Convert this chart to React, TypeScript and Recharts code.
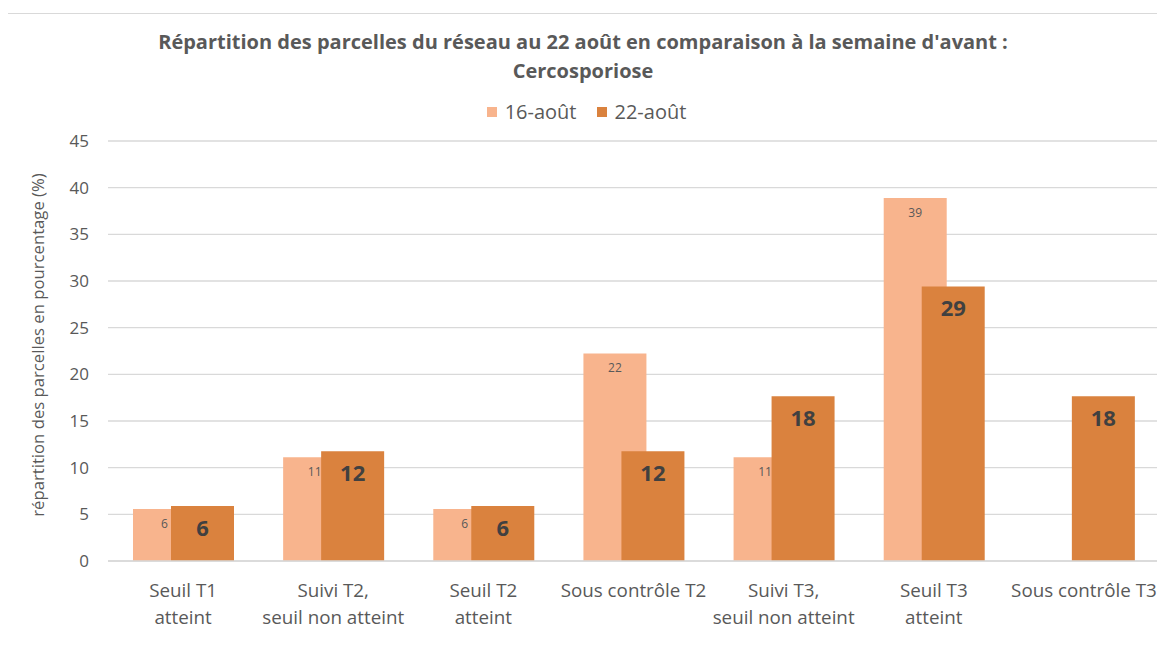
import React from 'react';
import { BarChart, Bar, XAxis, YAxis, CartesianGrid, LabelList, Legend } from 'recharts';

const categories = [
  'Seuil T1\natteint',
  'Suivi T2,\nseuil non atteint',
  'Seuil T2\natteint',
  'Sous contrôle T2',
  'Suivi T3,\nseuil non atteint',
  'Seuil T3\natteint',
  'Sous contrôle T3',
];
const values16: (number | null)[] = [5.56, 11.11, 5.56, 22.22, 11.11, 38.89, null];
const values22: (number | null)[] = [5.88, 11.76, 5.88, 11.76, 17.65, 29.41, 17.65];
const yTicks = [0, 5, 10, 15, 20, 25, 30, 35, 40, 45];
const seriesNames = ['16-août', '22-août'];
const titleLines = [
  "Répartition des parcelles du réseau au 22 août en comparaison à la semaine d'avant :",
  'Cercosporiose',
];
const yLabel = 'répartition des parcelles en pourcentage (%)';

const COLOR16 = '#F8B48D';
const COLOR22 = '#DA823E';
const TEXT = '#595959';
const FONT = '"Open Sans", sans-serif';

const data = categories.map((c, i) => ({ cat: c, v16: values16[i], v22: values22[i] }));

const fmt = (v: any) => (v == null ? '' : String(Math.round(Number(v))));

const XTick = (props: any) => {
  const { x, y, payload } = props;
  const lines = String(payload.value).split('\n');
  return (
    <text x={x} y={y + 28} textAnchor="middle" fill={TEXT} fontSize={18.8} fontFamily={FONT}>
      {lines.map((l: string, i: number) => (
        <tspan key={i} x={x} dy={i === 0 ? 0 : 27}>
          {l}
        </tspan>
      ))}
    </text>
  );
};

const LegendContent = (props: any) => {
  const payload = props.payload || [];
  return (
    <div style={{ display: 'flex', justifyContent: 'center', alignItems: 'center', fontFamily: FONT, fontSize: 20, color: TEXT, lineHeight: '24px', paddingLeft: 8 }}>
      {payload.map((p: any, i: number) => (
        <div key={i} style={{ display: 'flex', alignItems: 'center', marginRight: i === payload.length - 1 ? 0 : 20 }}>
          <span style={{ display: 'inline-block', width: 10, height: 10, background: p.color, marginRight: 8 }} />
          <span>{p.value}</span>
        </div>
      ))}
    </div>
  );
};

export default function App() {
  return (
    <div style={{ position: 'relative', width: 1165, height: 652, margin: -8, background: '#fff' }}>
      <div
        style={{
          position: 'absolute',
          left: 7,
          top: 13,
          width: 1170,
          height: 660,
          borderTop: '1px solid #D9D9D9',
          borderLeft: '1px solid #D9D9D9',
        }}
      />
      <div style={{ position: 'absolute', left: 0, top: 0 }}>
        <BarChart
          width={1165}
          height={652}
          data={data}
          margin={{ top: 141, right: 6, bottom: 21, left: 8 }}
          barGap={-25}
          barSize={63}
        >
          <CartesianGrid vertical={false} stroke="#D9D9D9" strokeWidth={1.3} />
          <XAxis
            dataKey="cat"
            height={70}
            interval={0}
            axisLine={{ stroke: '#D9D9D9', strokeWidth: 1.3 }}
            tickLine={false}
            tick={<XTick />}
          />
          <YAxis
            domain={[0, 45]}
            ticks={yTicks}
            width={100}
            axisLine={false}
            tickLine={false}
            tickMargin={13}
            tick={{ fill: TEXT, fontSize: 17, fontFamily: FONT }}
          />
          <Legend
            layout="horizontal"
            verticalAlign="middle"
            align="center"
            wrapperStyle={{ top: 100, left: 0, width: 1165 }}
            content={<LegendContent />}
          />
          <Bar dataKey="v16" name={seriesNames[0]} fill={COLOR16} isAnimationActive={false}>
            <LabelList
              dataKey="v16"
              position="insideTop"
              offset={10}
              formatter={fmt}
              fill={TEXT}
              fontSize={12}
              fontFamily={FONT}
            />
          </Bar>
          <Bar dataKey="v22" name={seriesNames[1]} fill={COLOR22} isAnimationActive={false}>
            <LabelList
              dataKey="v22"
              position="insideTop"
              offset={14}
              formatter={fmt}
              fill="#404040"
              fontSize={22}
              fontWeight="bold"
              fontFamily={FONT}
            />
          </Bar>
        </BarChart>
      </div>
      <svg
        width={1165}
        height={652}
        style={{ position: 'absolute', left: 0, top: 0, pointerEvents: 'none' }}
      >
        <text x={583} y={49} textAnchor="middle" fill={TEXT} fontSize={20} fontWeight="bold" fontFamily={FONT}>
          {titleLines[0]}
        </text>
        <text x={583} y={78} textAnchor="middle" fill={TEXT} fontSize={20} fontWeight="bold" fontFamily={FONT}>
          {titleLines[1]}
        </text>
        <text
          x={37}
          y={345}
          transform="rotate(-90 37 345)"
          textAnchor="middle"
          dominantBaseline="central"
          fill={TEXT}
          fontSize={16.7}
          fontFamily={FONT}
        >
          {yLabel}
        </text>
      </svg>
    </div>
  );
}
